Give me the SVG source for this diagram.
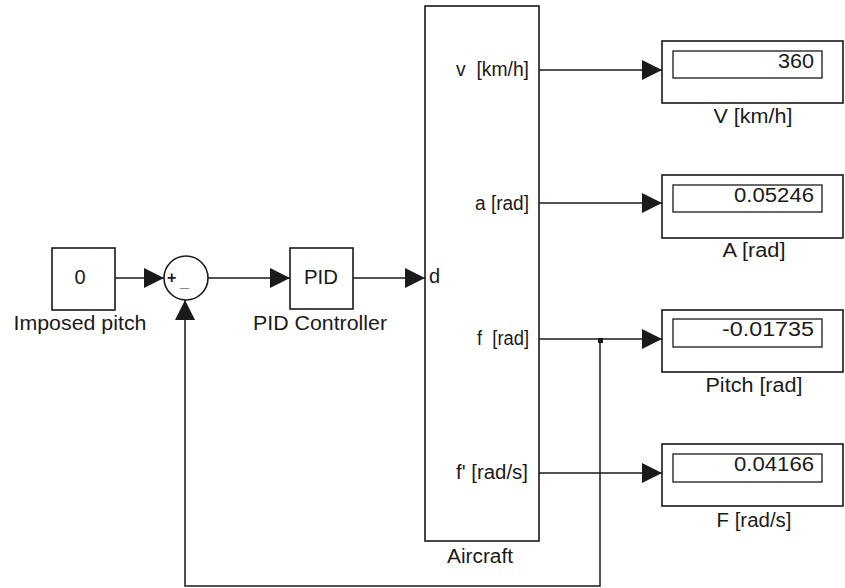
<svg xmlns="http://www.w3.org/2000/svg" width="845" height="588" viewBox="0 0 845 588">
<style>
.blk{fill:#fff;stroke:#1a1a1a;stroke-width:1.6}
.inner{fill:#fff;stroke:#1a1a1a;stroke-width:1.3}
.ln{fill:none;stroke:#1a1a1a;stroke-width:1.5}
text{font-family:"Liberation Sans",Arial,sans-serif;font-size:20px;fill:#1a1a1a;white-space:pre}
.c{text-anchor:middle}
.r{text-anchor:end}
</style>
<defs>
<marker id="ah" viewBox="0 0 20 20" refX="20" refY="10" markerWidth="20" markerHeight="20" markerUnits="userSpaceOnUse" orient="auto">
<path d="M0,0 L20,10 L0,20 z" fill="#1a1a1a"/>
</marker>
</defs>
<rect width="845" height="588" fill="#fff"/>
<g id="connectors">
<line class="ln" x1="115" y1="278" x2="164" y2="278" marker-end="url(#ah)"/>
<line class="ln" x1="208" y1="278" x2="290" y2="278" marker-end="url(#ah)"/>
<line class="ln" x1="353" y1="278" x2="425" y2="278" marker-end="url(#ah)"/>
<line class="ln" x1="539" y1="70" x2="662" y2="70" marker-end="url(#ah)"/>
<line class="ln" x1="539" y1="203" x2="662" y2="203" marker-end="url(#ah)"/>
<line class="ln" x1="539" y1="339" x2="662" y2="339" marker-end="url(#ah)"/>
<line class="ln" x1="539" y1="473" x2="662" y2="473" marker-end="url(#ah)"/>
<polyline class="ln" points="600,339 600,586 185,586 185,300" marker-end="url(#ah)"/>
<rect x="598" y="338" width="5" height="5" fill="#1a1a1a"/>
</g>
<g id="imposed-pitch">
<rect class="blk" x="52" y="248" width="63" height="62"/>
<text class="c" x="80" y="284">0</text>
<text class="c" x="80" y="330" textLength="133" lengthAdjust="spacingAndGlyphs">Imposed pitch</text>
</g>
<g id="sum">
<circle class="blk" cx="186" cy="278" r="22"/>
<text x="167" y="283" style="font-size:16px;font-weight:bold">+</text>
<text x="180" y="287" style="font-size:16px;font-weight:bold">_</text>
</g>
<g id="pid">
<rect class="blk" x="290" y="248" width="63" height="61"/>
<text class="c" x="321" y="284" textLength="34" lengthAdjust="spacingAndGlyphs">PID</text>
<text class="c" x="320" y="330" textLength="134" lengthAdjust="spacingAndGlyphs">PID Controller</text>
</g>
<g id="aircraft">
<rect class="blk" x="425" y="6" width="114" height="535"/>
<text x="429" y="283">d</text>
<text class="r" x="529" y="76" textLength="73" lengthAdjust="spacingAndGlyphs">v  [km/h]</text>
<text class="r" x="529" y="210" textLength="54" lengthAdjust="spacingAndGlyphs">a [rad]</text>
<text class="r" x="529" y="345" textLength="52" lengthAdjust="spacingAndGlyphs">f  [rad]</text>
<text class="r" x="528" y="479" textLength="72" lengthAdjust="spacingAndGlyphs">f' [rad/s]</text>
<text class="c" x="480" y="563" textLength="66" lengthAdjust="spacingAndGlyphs">Aircraft</text>
</g>
<g id="display-v">
<rect class="blk" x="662" y="41" width="181" height="62"/>
<rect class="inner" x="673" y="51" width="149" height="27"/>
<text class="r" x="814" y="68" textLength="36" lengthAdjust="spacingAndGlyphs">360</text>
<text class="c" x="753" y="123" textLength="79" lengthAdjust="spacingAndGlyphs">V [km/h]</text>
</g>
<g id="display-a">
<rect class="blk" x="662" y="175" width="181" height="63"/>
<rect class="inner" x="673" y="185" width="149" height="27"/>
<text class="r" x="814" y="202" textLength="80" lengthAdjust="spacingAndGlyphs">0.05246</text>
<text class="c" x="754" y="257" textLength="63" lengthAdjust="spacingAndGlyphs">A [rad]</text>
</g>
<g id="display-pitch">
<rect class="blk" x="662" y="310" width="181" height="62"/>
<rect class="inner" x="673" y="319" width="149" height="28"/>
<text class="r" x="814" y="336" textLength="92" lengthAdjust="spacingAndGlyphs">-0.01735</text>
<text class="c" x="754" y="392" textLength="97" lengthAdjust="spacingAndGlyphs">Pitch [rad]</text>
</g>
<g id="display-f">
<rect class="blk" x="662" y="444" width="181" height="62"/>
<rect class="inner" x="673" y="454" width="149" height="28"/>
<text class="r" x="814" y="471" textLength="80" lengthAdjust="spacingAndGlyphs">0.04166</text>
<text class="c" x="754" y="527" textLength="75" lengthAdjust="spacingAndGlyphs">F [rad/s]</text>
</g>
</svg>
